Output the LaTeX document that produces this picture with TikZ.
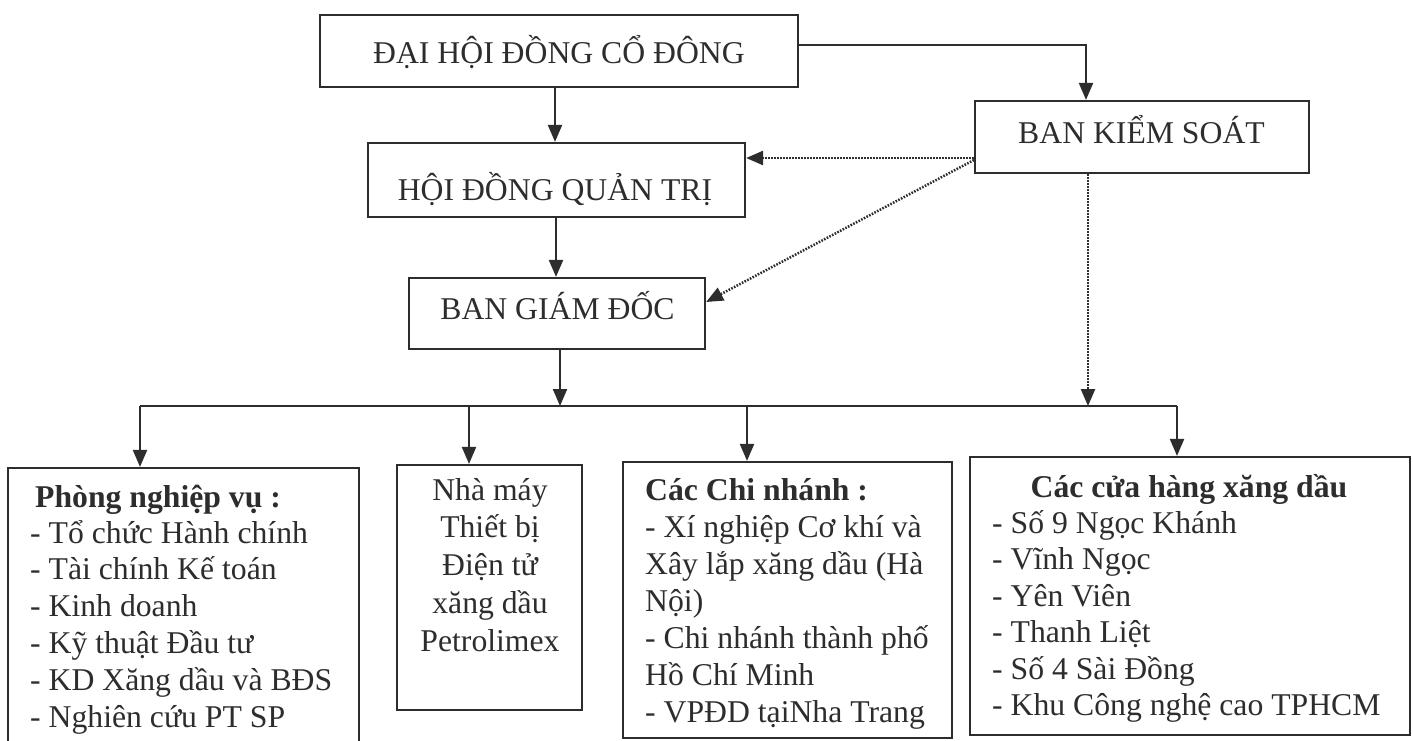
\documentclass[tikz,border=0pt]{standalone}
\usepackage{fontspec}
\setmainfont{Liberation Serif}
\usetikzlibrary{arrows.meta}
\definecolor{ink}{RGB}{45,45,45}
\begin{document}
\begin{tikzpicture}[x=1pt,y=-1pt,
  box/.style={draw=ink, line width=2.2pt, inner sep=0pt, fill=none},
  txt/.style={inner sep=0pt, text=ink, font=\fontsize{31.7}{38}\selectfont},
  bold/.style={txt, font=\fontsize{31.7}{38}\selectfont\bfseries},
  arr/.style={draw=ink, line width=2.2pt, -{Triangle[length=17pt,width=14pt]}},
  link/.style={draw=ink, line width=2.2pt},
  dotarr/.style={draw=ink, line width=2.5pt, dash pattern=on 1.6pt off 1.4pt, -{Triangle[length=17pt,width=14pt]}}]
\useasboundingbox (0,0) rectangle (1413,740);
% top boxes
\node[box, minimum width=478pt, minimum height=72pt] (dh) at (559,51) {};
\node[box, minimum width=377pt, minimum height=74pt] (hd) at (556.5,180) {};
\node[box, minimum width=296pt, minimum height=71pt] (bgd) at (557,313.5) {};
\node[box, minimum width=334pt, minimum height=72pt] (bks) at (1142,137) {};
\node[txt, anchor=base] (dh-t) at (559,63) {ĐẠI HỘI ĐỒNG CỔ ĐÔNG};
\node[txt, anchor=base] (hd-t) at (555,200) {HỘI ĐỒNG QUẢN TRỊ};
\node[txt, anchor=base] (bgd-t) at (557.5,319) {BAN GIÁM ĐỐC};
\node[txt, anchor=base] (bks-t) at (1141.5,143) {BAN KIỂM SOÁT};
% bottom boxes
\node[box, minimum width=351pt, minimum height=292pt] (b1) at (183.5,614) {};
\node[box, minimum width=185pt, minimum height=245pt] (b2) at (489.5,587.5) {};
\node[box, minimum width=329pt, minimum height=276pt] (b3) at (787.5,600) {};
\node[box, minimum width=440pt, minimum height=278pt] (b4) at (1190,596) {};
% box 1 text
\node[bold, anchor=base west] (b1-h) at (35,507) {Phòng nghiệp vụ :};
\foreach \s [count=\i] in {- Tổ chức Hành chính, - Tài chính Kế toán, - Kinh doanh, - Kỹ thuật Đầu tư, - KD Xăng dầu và BĐS, - Nghiên cứu PT SP}
  \node[txt, anchor=base west] (b1-\i) at (30,{543+36.8*(\i-1)}) {\s};
% box 2 text
\foreach \s [count=\i] in {Nhà máy, Thiết bị, Điện tử, xăng dầu, Petrolimex}
  \node[txt, anchor=base] (b2-\i) at (490,{500+37.8*(\i-1)}) {\s};
% box 3 text
\node[bold, anchor=base west] (b3-h) at (645,500) {Các Chi nhánh :};
\foreach \s [count=\i] in {- Xí nghiệp Cơ khí và, Xây lắp xăng dầu (Hà, Nội), - Chi nhánh thành phố, Hồ Chí Minh, - VPĐD tạiNha Trang}
  \node[txt, anchor=base west] (b3-\i) at (645,{537+37*(\i-1)}) {\s};
% box 4 text
\node[bold, anchor=base] (b4-h) at (1189,497) {Các cửa hàng xăng dầu};
\foreach \s [count=\i] in {- Số 9 Ngọc Khánh, - Vĩnh Ngọc, - Yên Viên, - Thanh Liệt, - Số 4 Sài Đồng, - Khu Công nghệ cao TPHCM}
  \node[txt, anchor=base west] (b4-\i) at (992,{533+36.5*(\i-1)}) {\s};
% bus coordinates
\coordinate (busL) at (140,406);
\coordinate (busR) at (1177,406);
\coordinate (d2) at (469,406);
\coordinate (d3) at (747,406);
% connectors
\draw[arr] ([yshift=6pt]dh.east) -| ([xshift=-56pt]bks.north);
\draw[arr] ([xshift=-4pt]dh.south) -- ([xshift=-1.5pt]hd.north);
\draw[arr] ([xshift=-0.5pt]hd.south) -- ([xshift=-0.5pt]hd.south |- bgd.north);
\draw[arr] ([xshift=3pt]bgd.south) -- ([xshift=3pt]bgd.south |- busL);
\draw[link] (busL) -- (busR);
\draw[arr] (busL) -- (busL |- b1.north);
\draw[arr] (d2) -- (d2 |- b2.north);
\draw[arr] (d3) -- (d3 |- b3.north);
\draw[arr] (busR) -- (busR |- b4.north);
\draw[dotarr] ([yshift=-21pt]bks.west) -- ([yshift=22pt]hd.east);
\draw[dotarr] ([yshift=-23pt]bks.west) -- ([yshift=11.5pt]bgd.east);
\draw[dotarr] ([xshift=-54pt]bks.south) -- ([xshift=-54pt]bks.south |- busL);
\end{tikzpicture}
\end{document}
